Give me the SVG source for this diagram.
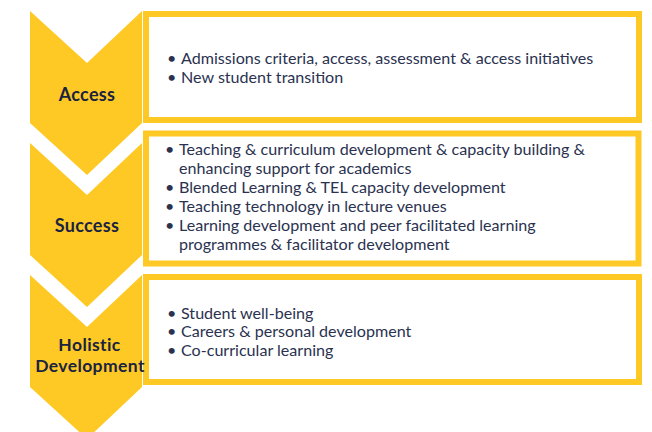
<svg xmlns="http://www.w3.org/2000/svg" width="652" height="432" viewBox="0 0 652 432">
<style>
.chev{fill:#FEC925}
.box{fill:#FFFFFF;stroke:#FEC925;stroke-width:6}
.lbl{font-family:Lato,"Liberation Sans",sans-serif;font-weight:700;font-size:18px;letter-spacing:0.3px;fill:#1A2340;text-anchor:middle}
.lbl2{font-size:17.5px;letter-spacing:0.4px}
.txt{font-family:Lato,"Liberation Sans",sans-serif;font-size:16.1px;fill:#2A3250}
</style>
<rect width="652" height="432" fill="#FFFFFF"/>
<g id="access">
<polygon class="chev" points="30,11 87,63 142,11 142,123 87,175 30,123"/>
<rect class="box" x="146" y="14" width="493" height="106"/>
<text class="lbl" x="87" y="101">Access</text>
<text class="txt"><tspan x="167" y="64">•</tspan><tspan x="181" y="64">Admissions criteria, access, assessment &amp; access initiatives</tspan><tspan x="167" y="83">•</tspan><tspan x="181" y="83">New student transition</tspan></text>
</g>
<g id="success">
<polygon class="chev" points="30,143 87,195 142,143 142,255 87,307 30,255"/>
<rect class="box" x="146" y="133.5" width="492.5" height="130"/>
<text class="lbl" x="87" y="232">Success</text>
<text class="txt"><tspan x="165" y="155">•</tspan><tspan x="179" y="155">Teaching &amp; curriculum development &amp; capacity building &amp;</tspan><tspan x="179" y="174">enhancing support for academics</tspan><tspan x="165" y="193">•</tspan><tspan x="179" y="193">Blended Learning &amp; TEL capacity development</tspan><tspan x="165" y="212">•</tspan><tspan x="179" y="212">Teaching technology in lecture venues</tspan><tspan x="165" y="231">•</tspan><tspan x="179" y="231">Learning development and peer facilitated learning</tspan><tspan x="179" y="250">programmes &amp; facilitator development</tspan></text>
</g>
<g id="holistic">
<polygon class="chev" points="30,275 87,327 142,275 142,387 87,439 30,387"/>
<rect class="box" x="146" y="277" width="493" height="105"/>
<text class="lbl lbl2" x="89.5" y="350.5">Holistic</text>
<text class="lbl lbl2" x="90" y="372">Development</text>
<text class="txt"><tspan x="167" y="319">•</tspan><tspan x="181" y="319">Student well-being</tspan><tspan x="167" y="337">•</tspan><tspan x="181" y="337">Careers &amp; personal development</tspan><tspan x="167" y="356">•</tspan><tspan x="181" y="356">Co-curricular learning</tspan></text>
</g>
<g id="connectors"></g>
</svg>
